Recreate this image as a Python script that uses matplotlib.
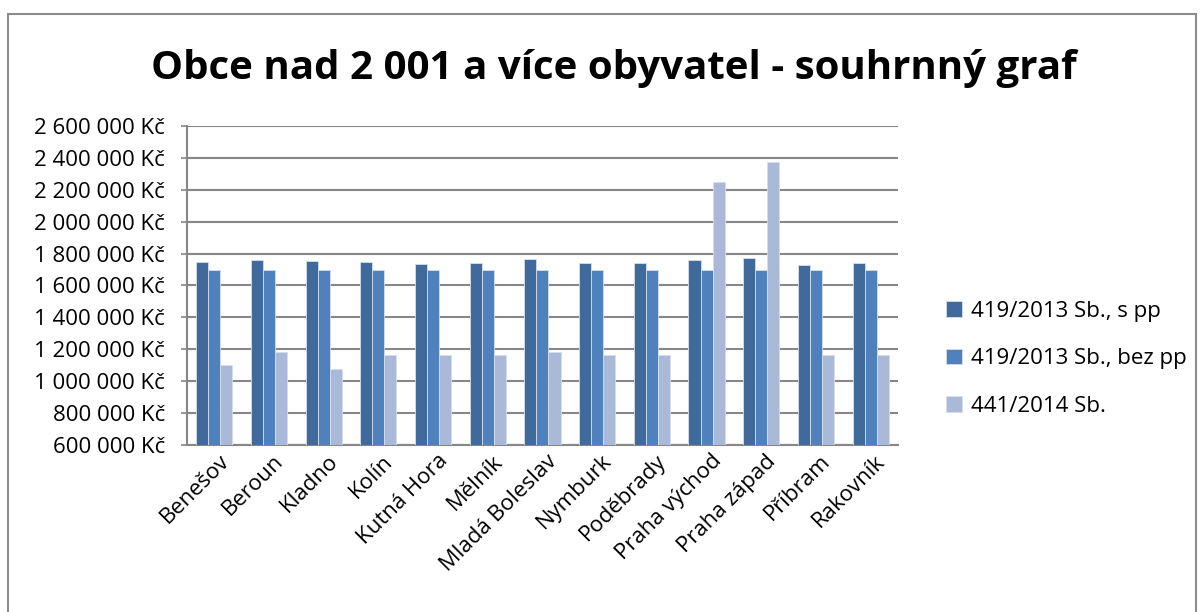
import matplotlib.pyplot as plt
import matplotlib.patches as patches
import matplotlib.transforms as mtrans
import numpy as np
from matplotlib.ticker import FuncFormatter, MultipleLocator

plt.rcParams['font.family'] = ['Open Sans', 'DejaVu Sans']

obce = ['Benešov', 'Beroun', 'Kladno', 'Kolín', 'Kutná Hora', 'Mělník',
        'Mladá Boleslav', 'Nymburk', 'Poděbrady', 'Praha východ',
        'Praha západ', 'Příbram', 'Rakovník']
s_pp = [1748000, 1757000, 1752000, 1746000, 1736000, 1738000, 1765000,
        1738000, 1744000, 1763000, 1773000, 1729000, 1740000]
bez_pp = [1700000] * 13
z441 = [1099000, 1182000, 1078000, 1162000, 1162000, 1162000, 1182000,
        1162000, 1162000, 2251000, 2374000, 1162000, 1162000]
nazvy = ['419/2013 Sb., s pp', '419/2013 Sb., bez pp', '441/2014 Sb.']
barvy = ['#416A9C', '#4F81BD', '#AAB9D7']

fig = plt.figure(figsize=(12.04, 6.12), dpi=100)
ax = fig.add_axes([0.1553, 0.2729, 0.5905, 0.5212])

# ramecek kolem celeho grafu
fig.patches.append(patches.Rectangle((8/1204, -0.05), 1188/1204, 1.05 - 14/612,
                                     transform=fig.transFigure, fill=False,
                                     edgecolor='#8C8C8C', linewidth=1.5))

x = np.arange(len(obce))
w = 0.22
for i, (data, nazev, barva) in enumerate(zip([s_pp, bez_pp, z441], nazvy, barvy)):
    ax.bar(x + (i - 1) * w, data, w, color=barva, label=nazev,
           edgecolor='#D5DEEC', linewidth=0.6, zorder=3)

ax.set_ylim(600000, 2600000)
ax.set_xlim(-0.5, len(obce) - 0.5)
ax.yaxis.set_major_locator(MultipleLocator(200000))
ax.yaxis.set_major_formatter(FuncFormatter(lambda v, p: f'{v:,.0f}'.replace(',', ' ') + ' Kč'))
ax.grid(axis='y', color='#878787', linewidth=1.5, zorder=0)
for s in ['top', 'right']:
    ax.spines[s].set_visible(False)
for s in ['left', 'bottom']:
    ax.spines[s].set_color('#878787')
    ax.spines[s].set_linewidth(1.5)
ax.tick_params(axis='y', colors='#878787', labelcolor='black', labelsize=16,
               length=4, width=1.2, pad=12)
ax.tick_params(axis='x', length=0, labelsize=16, pad=4)
ax.set_xticks(x)
ax.set_xticklabels(obce, rotation=45, ha='right', rotation_mode='anchor')
posun = mtrans.ScaledTranslation(3/72, 0, fig.dpi_scale_trans)
for t in ax.get_xticklabels():
    t.set_transform(t.get_transform() + posun)

fig.text(0.51, 0.888, 'Obce nad 2 001 a více obyvatel - souhrnný graf',
         ha='center', va='center', fontsize=29, fontweight='bold')

ax.legend(loc='center left', bbox_to_anchor=(1.04, 0.27), frameon=False,
          fontsize=16, handlelength=0.7, handleheight=0.7, handletextpad=0.4,
          labelspacing=1.2)

fig.savefig('out.png', dpi=100)
